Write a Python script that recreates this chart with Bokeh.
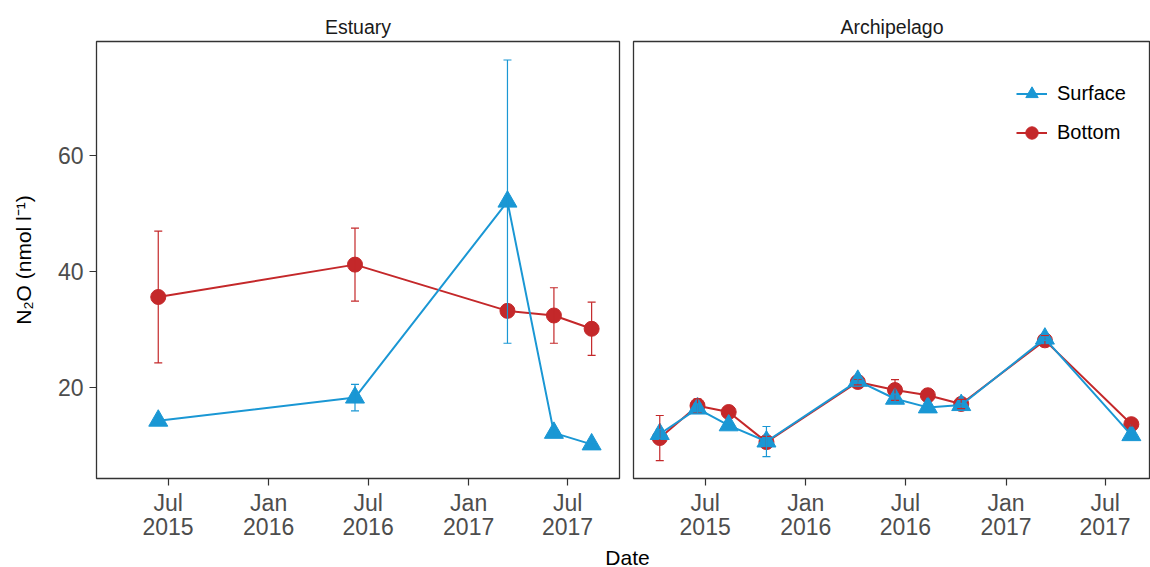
import pandas as pd
from bokeh.plotting import figure
from bokeh.models import (Range1d, FixedTicker, Whisker, ColumnDataSource, Legend,
                          LegendItem, Label, TeeHead)
from bokeh.layouts import row, column
from bokeh.embed import file_html
from bokeh.resources import INLINE

# ---------------- data ----------------
est_dates = ["2015-06-13", "2016-06-07", "2017-03-13", "2017-06-06", "2017-08-14"]
est_surface = [14.2, 18.2, 52.1, 12.1, 10.1]
est_surface_sd = [0.4, 2.3, 24.5, 0.5, 0.3]
est_bottom = [35.6, 41.2, 33.2, 32.4, 30.1]
est_bottom_sd = [11.4, 6.3, 1.0, 4.8, 4.6]

arc_dates = ["2015-04-09", "2015-06-17", "2015-08-13", "2015-10-21", "2016-04-05",
             "2016-06-12", "2016-08-11", "2016-10-11", "2017-03-13", "2017-08-18"]
arc_surface = [11.9, 16.3, 13.4, 10.6, 21.1, 18.0, 16.5, 16.9, 28.4, 11.7]
arc_surface_sd = [0.8, 0.8, 0.3, 2.6, 0.4, 0.8, 0.3, 0.3, 0.3, 0.3]
arc_bottom = [11.2, 16.8, 15.7, 10.5, 20.9, 19.5, 18.6, 17.1, 28.1, 13.6]
arc_bottom_sd = [3.9, 1.2, 0.3, 1.0, 0.5, 1.8, 0.3, 0.8, 0.8, 0.3]

tick_dates = ["2015-07-01", "2016-01-01", "2016-07-01", "2017-01-01", "2017-07-01"]
tick_labels = ["Jul\n2015", "Jan\n2016", "Jul\n2016", "Jan\n2017", "Jul\n2017"]
y_ticks = [20, 40, 60]
panels = ["Estuary", "Archipelago"]
series = ["Surface", "Bottom"]

BLUE = "#1A97D4"
RED = "#C4282A"
TICK_COL = "#4D4D4D"
FONT = "Liberation Sans"


def ms(s):
    return pd.Timestamp(s).value / 1e6


tick_ms = [ms(d) for d in tick_dates]
overrides = {t: lab for t, lab in zip(tick_ms, tick_labels)}

y_range = Range1d(4.2, 79.8)
MAIN_H = 546


def make_panel(title, dates, surf, surf_sd, bot, bot_sd, x_end, first, width,
               mb_left, mb_right):
    p = figure(width=width, height=MAIN_H, x_range=Range1d(ms("2015-02-20"), ms(x_end)),
               y_range=y_range, output_backend="svg", toolbar_location=None,
               y_axis_location="left" if first else None,
               min_border_left=mb_left, min_border_right=mb_right,
               min_border_top=41, min_border_bottom=68)
    p.grid.visible = False
    p.outline_line_color = "#333333"
    p.outline_line_width = 1.3
    p.background_fill_color = "white"
    p.border_fill_color = "white"

    p.title.text = title
    p.title.align = "center"
    p.title.text_font = FONT
    p.title.text_font_size = "19.5px"
    p.title.text_font_style = "normal"
    p.title.text_color = "#1A1A1A"
    p.title.standoff = 7

    ax = p.xaxis[0]
    ax.ticker = FixedTicker(ticks=tick_ms)
    ax.major_label_overrides = overrides
    ax.major_label_text_font = FONT
    ax.major_label_text_font_size = "23px"
    ax.major_label_text_line_height = 0.95
    ax.major_label_text_color = TICK_COL
    ax.major_label_standoff = 4
    ax.major_tick_out = 7
    ax.major_tick_in = 0
    ax.major_tick_line_color = "#333333"
    ax.major_tick_line_width = 1.2
    ax.minor_tick_line_color = None
    ax.axis_line_color = None

    if first:
        ay = p.yaxis[0]
        ay.ticker = FixedTicker(ticks=y_ticks)
        ay.major_label_text_font = FONT
        ay.major_label_text_font_size = "23px"
        ay.major_label_text_color = TICK_COL
        ay.major_label_standoff = 6
        ay.major_tick_out = 7
        ay.major_tick_in = 0
        ay.major_tick_line_color = "#333333"
        ay.major_tick_line_width = 1.2
        ay.minor_tick_line_color = None
        ay.axis_line_color = None
        ay.axis_label = "N\u2082O (nmol l\u207b\u00b9)"
        ay.axis_label_text_font = FONT
        ay.axis_label_text_font_size = "21px"
        ay.axis_label_text_font_style = "normal"
        ay.axis_label_text_color = "black"
        ay.axis_label_standoff = 20

    x = [ms(d) for d in dates]
    src_s = ColumnDataSource(dict(x=x, y=surf,
                                  lo=[v - e for v, e in zip(surf, surf_sd)],
                                  hi=[v + e for v, e in zip(surf, surf_sd)]))
    src_b = ColumnDataSource(dict(x=x, y=bot,
                                  lo=[v - e for v, e in zip(bot, bot_sd)],
                                  hi=[v + e for v, e in zip(bot, bot_sd)]))

    lb = p.line("x", "y", source=src_b, line_color=RED, line_width=2)
    sb = p.scatter("x", "y", source=src_b, marker="circle", size=15,
                   fill_color=RED, line_color=RED)
    ls = p.line("x", "y", source=src_s, line_color=BLUE, line_width=2)
    ss = p.scatter("x", "y", source=src_s, marker="triangle", size=19,
                   fill_color=BLUE, line_color=BLUE)

    for src, col in ((src_b, RED), (src_s, BLUE)):
        w = Whisker(source=src, base="x", upper="hi", lower="lo", dimension="height",
                    line_color=col, line_width=1.2, level="overlay",
                    upper_head=TeeHead(size=8, line_color=col, line_width=1.2),
                    lower_head=TeeHead(size=8, line_color=col, line_width=1.2))
        p.add_layout(w)
    return p, (ls, ss), (lb, sb)


p1, _, _ = make_panel(panels[0], est_dates, est_surface, est_surface_sd, est_bottom,
                      est_bottom_sd, "2017-10-04", True, 626, 96, 7)
p2, rs, rb = make_panel(panels[1], arc_dates, arc_surface, arc_surface_sd, arc_bottom,
                        arc_bottom_sd, "2017-09-22", False, 524, 7, 0)

legend = Legend(items=[LegendItem(label=series[0], renderers=list(rs)),
                       LegendItem(label=series[1], renderers=list(rb))],
                location=(383, 326), padding=0, margin=0, spacing=0,
                glyph_width=31, glyph_height=39, label_height=39,
                label_standoff=10, border_line_color=None,
                background_fill_alpha=0, label_text_font=FONT,
                label_text_font_size="20px", label_text_color="black")
p2.add_layout(legend)

DATE_H = 567 - MAIN_H
pd_ = figure(width=1150, height=DATE_H, x_range=Range1d(0, 1150), y_range=Range1d(0, DATE_H),
             output_backend="svg", toolbar_location=None, x_axis_location=None,
             y_axis_location=None, min_border=0)
pd_.grid.visible = False
pd_.outline_line_color = None
pd_.add_layout(Label(x=627, y=DATE_H / 2, text="Date", text_align="center",
                     text_baseline="middle", text_font=FONT, text_font_size="21px",
                     text_color="black"))

layout = column(row(p1, p2), pd_)
open("out.html", "w").write(file_html(layout, INLINE))
